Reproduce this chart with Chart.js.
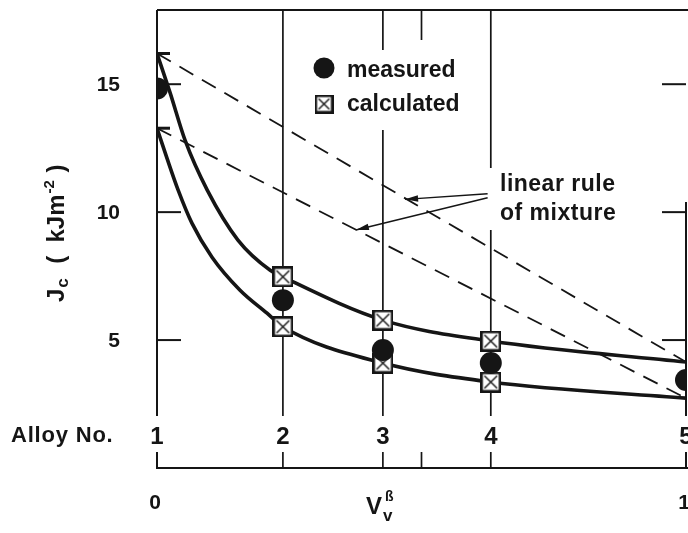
<!DOCTYPE html>
<html>
<head>
<meta charset="utf-8">
<script src="https://cdn.jsdelivr.net/npm/chart.js@4.4.0/dist/chart.umd.min.js"></script>
<style>
  html, body { margin: 0; padding: 0; background: #ffffff; overflow: hidden; }
  #wrap { width: 688px; height: 533px; position: relative; }
  #c { display: block; }
</style>
</head>
<body>
<div id="wrap"><canvas id="c"></canvas></div>
<script>
// ---------------- data ----------------
const alloyNames   = ['1', '2', '3', '4', '5'];
const alloyVv      = [0, 0.238, 0.427, 0.631, 1];          // V_v^beta of each alloy
const measuredJc   = [14.83, 6.56, 4.61, 4.10, 3.44];      // filled circles
const calcVv       = [0.238, 0.427, 0.631];
const calcUpperJc  = [7.47, 5.78, 4.96];                   // upper calculated squares
const calcLowerJc  = [5.52, 4.10, 3.36];                   // lower calculated squares
const capJcAtZero  = [16.2, 13.28];                        // bars at V = 0
const upperCurveVv = [0, 0.025, 0.053, 0.095, 0.153, 0.214, 0.238, 0.427, 0.631, 1];
const upperCurveJc = [16.2, 14.65, 12.81, 10.86, 8.91, 7.73, 7.47, 5.78, 4.96, 4.14];
const lowerCurveVv = [0, 0.019, 0.040, 0.066, 0.104, 0.157, 0.208, 0.238, 0.427, 0.631, 1];
const lowerCurveJc = [13.28, 12.1, 10.86, 9.57, 8.24, 6.95, 6.05, 5.52, 4.10, 3.36, 2.73];
const mixVv        = [0, 1];
const mixUpperJc   = [16.2, 4.14];                         // linear rule of mixture
const mixLowerJc   = [13.28, 2.73];
const yTicks       = [5, 10, 15];
const xTicks       = [0, 1];
const xTickLabels  = ['0', '1'];
const yMin = 0, yMax = 17.9;
// arrows of the "linear rule of mixture" note
const arrowTail    = [0.625, 10.72];
const arrowTipsVv  = [0.469, 0.376];
const arrowTipsJc  = [10.50, 9.30];

// ---------------- helpers ----------------
const INK = '#151515';
const FAM = '"Liberation Sans", Arial, Helvetica, sans-serif';
const pts = (xs, ys) => xs.map((v, i) => ({ x: v, y: ys[i] }));

function makeSquareMarker(size) {
  const c = document.createElement('canvas');
  c.width = size; c.height = size;
  const g = c.getContext('2d');
  g.fillStyle = '#ffffff';
  g.fillRect(0, 0, size, size);
  g.strokeStyle = INK;
  g.lineWidth = 2.6;
  g.strokeRect(1.3, 1.3, size - 2.6, size - 2.6);
  g.lineWidth = 1.4;
  const m = 4.2;
  g.beginPath();
  g.moveTo(m, m); g.lineTo(size - m, size - m);
  g.moveTo(size - m, m); g.lineTo(m, size - m);
  g.stroke();
  return c;
}
const squareMarker = makeSquareMarker(21);
const squareLegend = makeSquareMarker(19);

function seg(ctx, x1, y1, x2, y2) {
  ctx.beginPath(); ctx.moveTo(x1, y1); ctx.lineTo(x2, y2); ctx.stroke();
}

const figurePlugin = {
  id: 'figure',
  beforeDatasetsDraw(chart) {
    const { ctx, chartArea: a, scales: { x, y } } = chart;
    ctx.save();
    ctx.strokeStyle = INK;
    ctx.lineCap = 'butt';
    // frame
    ctx.lineWidth = 2;
    seg(ctx, a.left, a.top, a.right + 2, a.top);
    seg(ctx, a.left, a.top, a.left, a.bottom + 1);
    seg(ctx, a.left - 1, a.bottom, a.right + 2, a.bottom);
    seg(ctx, a.right, y.getPixelForValue(10.4), a.right, a.bottom);
    // inward ticks on both sides
    yTicks.forEach(v => {
      const py = y.getPixelForValue(v);
      seg(ctx, a.left, py, a.left + 24, py);
      seg(ctx, a.right - 24, py, a.right, py);
    });
    // vertical lines through the alloys
    ctx.lineWidth = 1.7;
    alloyVv.slice(1, 4).forEach(v => {
      const px = x.getPixelForValue(v);
      seg(ctx, px, a.top, px, a.bottom);
    });
    // short ticks at V = 0.5
    const ph = x.getPixelForValue(0.5);
    seg(ctx, ph, a.top, ph, a.top + 30);
    seg(ctx, ph, a.bottom - 16, ph, a.bottom);
    // white gaps behind labels
    ctx.fillStyle = '#ffffff';
    alloyVv.forEach(v => {
      const px = x.getPixelForValue(v);
      ctx.fillRect(px - 12, a.bottom - 52, 24, 36);
    });
    ctx.fillRect(300, 50, 170, 80);      // legend
    ctx.fillRect(482, 168, 160, 62);     // note text
    ctx.restore();
  },
  afterDatasetsDraw(chart) {
    const { ctx, chartArea: a, scales: { x, y } } = chart;
    ctx.save();
    ctx.fillStyle = INK;
    ctx.strokeStyle = INK;

    // y tick labels
    ctx.font = 'bold 21px ' + FAM;
    ctx.textAlign = 'right';
    ctx.textBaseline = 'middle';
    yTicks.forEach(v => ctx.fillText(String(v), a.left - 37, y.getPixelForValue(v) + 1));

    // x tick labels
    ctx.textAlign = 'center';
    ctx.textBaseline = 'middle';
    xTicks.forEach((v, i) => ctx.fillText(xTickLabels[i], x.getPixelForValue(v) - 2, a.bottom + 35));

    // alloy numbers
    ctx.font = 'bold 24px ' + FAM;
    alloyVv.forEach((v, i) => ctx.fillText(alloyNames[i], x.getPixelForValue(v), a.bottom - 31));
    ctx.textAlign = 'left';
    ctx.font = 'bold 22px ' + FAM;
    ctx.letterSpacing = '0.8px';
    ctx.fillText('Alloy No.', 11, a.bottom - 32);
    ctx.letterSpacing = '0px';

    // x title V_v^beta
    ctx.textBaseline = 'alphabetic';
    ctx.font = 'bold 24px ' + FAM;
    const vx = 366, vy = a.bottom + 46;
    ctx.fillText('V', vx, vy);
    ctx.font = 'bold 17px ' + FAM;
    ctx.fillText('v', vx + 17, vy + 7);
    ctx.font = 'bold 14px ' + FAM;
    ctx.fillText('ß', vx + 19, vy - 13);

    // y title  J_c ( kJm^-2 )
    ctx.save();
    ctx.translate(64, 302);
    ctx.rotate(-Math.PI / 2);
    const parts = [
      { t: 'J', f: 24, dy: 0 },
      { t: 'c', f: 17, dy: 4 },
      { t: '  (  kJm', f: 24, dy: 0 },
      { t: '-2', f: 15, dy: -10 },
      { t: ' )', f: 24, dy: 0 }
    ];
    let lx = 0;
    parts.forEach(p => {
      ctx.font = 'bold ' + p.f + 'px ' + FAM;
      ctx.fillText(p.t, lx, p.dy);
      lx += ctx.measureText(p.t).width + 1;
    });
    ctx.restore();

    // legend
    ctx.beginPath();
    ctx.arc(324, 68, 10.5, 0, Math.PI * 2);
    ctx.fill();
    ctx.drawImage(squareLegend, 324 - 9.5, 104 - 9.5);
    ctx.font = 'bold 23px ' + FAM;
    ctx.textAlign = 'left';
    ctx.textBaseline = 'middle';
    ctx.fillText('measured', 347, 71);
    ctx.fillText('calculated', 347, 105);

    // note
    ctx.letterSpacing = '0.5px';
    ctx.fillText('linear rule', 500, 185);
    ctx.fillText('of mixture', 500, 214);
    ctx.letterSpacing = '0px';

    // arrows
    ctx.lineWidth = 1.4;
    const tx = x.getPixelForValue(arrowTail[0]);
    const ty = y.getPixelForValue(arrowTail[1]);
    arrowTipsVv.forEach((v, i) => {
      const hx = x.getPixelForValue(v);
      const hy = y.getPixelForValue(arrowTipsJc[i]);
      seg(ctx, tx, ty + i * 4, hx, hy);
      const ang = Math.atan2(hy - (ty + i * 4), hx - tx);
      const L = 13, W = 3.2;
      ctx.beginPath();
      ctx.moveTo(hx, hy);
      ctx.lineTo(hx - L * Math.cos(ang) + W * Math.sin(ang), hy - L * Math.sin(ang) - W * Math.cos(ang));
      ctx.lineTo(hx - L * Math.cos(ang) - W * Math.sin(ang), hy - L * Math.sin(ang) + W * Math.cos(ang));
      ctx.closePath();
      ctx.fill();
    });
    ctx.restore();
  }
};

new Chart(document.getElementById('c'), {
  type: 'scatter',
  data: {
    datasets: [
      {
        label: 'measured',
        data: pts(alloyVv, measuredJc),
        pointStyle: 'circle',
        pointRadius: 11,
        backgroundColor: INK,
        borderColor: INK,
        borderWidth: 0,
        order: 0
      },
      {
        label: 'calculated',
        data: pts(calcVv, calcUpperJc).concat(pts(calcVv, calcLowerJc)),
        pointStyle: squareMarker,
        pointRadius: 11,
        order: 1
      },
      {
        label: 'calculated at V=0',
        data: pts([0, 0], capJcAtZero),
        pointStyle: 'line',
        pointRadius: 13,
        borderColor: INK,
        borderWidth: 3,
        order: 2
      },
      {
        type: 'line',
        label: 'calculated curve (upper)',
        data: pts(upperCurveVv, upperCurveJc),
        borderColor: INK,
        borderWidth: 3.6,
        pointRadius: 0,
        cubicInterpolationMode: 'monotone',
        fill: false,
        order: 3
      },
      {
        type: 'line',
        label: 'calculated curve (lower)',
        data: pts(lowerCurveVv, lowerCurveJc),
        borderColor: INK,
        borderWidth: 3.6,
        pointRadius: 0,
        cubicInterpolationMode: 'monotone',
        fill: false,
        order: 3
      },
      {
        type: 'line',
        label: 'linear rule of mixture (upper)',
        data: pts(mixVv, mixUpperJc),
        borderColor: INK,
        borderWidth: 1.8,
        borderDash: [16, 10],
        pointRadius: 0,
        fill: false,
        order: 4
      },
      {
        type: 'line',
        label: 'linear rule of mixture (lower)',
        data: pts(mixVv, mixLowerJc),
        borderColor: INK,
        borderWidth: 1.8,
        borderDash: [16, 10],
        pointRadius: 0,
        fill: false,
        order: 4
      }
    ]
  },
  options: {
    responsive: true,
    maintainAspectRatio: false,
    animation: false,
    devicePixelRatio: 1,
    layout: { autoPadding: false, padding: { left: 157, right: 2, top: 10, bottom: 65 } },
    plugins: {
      legend: { display: false },
      tooltip: { enabled: false }
    },
    scales: {
      x: { type: 'linear', min: 0, max: 1, display: false },
      y: { type: 'linear', min: yMin, max: yMax, display: false }
    }
  },
  plugins: [figurePlugin]
});
</script>
</body>
</html>
